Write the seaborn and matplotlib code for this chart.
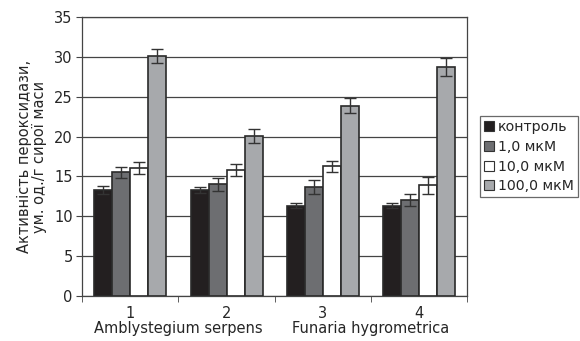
import matplotlib
matplotlib.use('Agg')
import matplotlib.pyplot as plt
import pandas as pd
import seaborn as sns

groups = ['1', '2', '3', '4']
levels = ['контроль', '1,0 мкМ', '10,0 мкМ', '100,0 мкМ']
control = [13.3, 13.3, 11.35, 11.35]
conc_1 = [15.5, 14.0, 13.7, 12.05]
conc_10 = [16.1, 15.8, 16.3, 13.9]
conc_100 = [30.1, 20.1, 23.9, 28.7]
err_control = [0.45, 0.4, 0.3, 0.3]
err_1 = [0.7, 0.85, 0.85, 0.8]
err_10 = [0.75, 0.8, 0.7, 1.05]
err_100 = [0.9, 0.85, 0.95, 1.1]
species = ['Amblystegium serpens', 'Funaria hygrometrica']
colors = ['#231f20', '#6d6e71', '#ffffff', '#a7a9ac']

values = [control, conc_1, conc_10, conc_100]
errors = [err_control, err_1, err_10, err_100]

rows = []
for lev, vals in zip(levels, values):
    for g, v in zip(groups, vals):
        rows.append({'group': g, 'level': lev, 'value': v})
df = pd.DataFrame(rows)

sns.set_style('white')
plt.rcParams['font.family'] = ['DejaVu Sans']
FS = 10.5

fig = plt.figure(figsize=(5.8, 3.41), dpi=100)
ax = fig.add_axes([0.142, 0.132, 0.663, 0.818])

bar_w = 0.75
sns.barplot(data=df, x='group', y='value', hue='level', order=groups,
            hue_order=levels, palette=colors, width=bar_w, gap=0, errorbar=None,
            saturation=1, ax=ax, zorder=3)

# make bars in a group touch each other, outline them, then add error bars
n = len(levels)
for i, (cont, errs) in enumerate(zip(ax.containers, errors)):
    xs = []
    for j, p in enumerate(cont.patches):
        x0 = j - bar_w / 2 + i * bar_w / n
        p.set_x(x0)
        p.set_width(bar_w / n)
        p.set_edgecolor('#2a2a2a')
        p.set_linewidth(1.2)
        xs.append(x0 + bar_w / n / 2)
    ys = [p.get_height() for p in cont.patches]
    ax.errorbar(xs, ys, yerr=errs, fmt='none', ecolor='#333333',
                elinewidth=1.0, capsize=4, capthick=1.0, zorder=4)

ax.set_ylim(0, 35)
ax.set_xlim(-0.5, 3.5)
ax.set_yticks(range(0, 36, 5))
ax.yaxis.grid(True, color='#444444', linewidth=0.9, zorder=0)
ax.set_axisbelow(True)
for s in ax.spines.values():
    s.set_color('#444444')
    s.set_linewidth(0.9)

ax.tick_params(axis='y', left=True, length=4, color='#444444', labelsize=FS, pad=3)
ax.tick_params(axis='x', bottom=False, labelsize=FS, pad=4)
# category boundary ticks
ax.set_xticks([-0.5, 0.5, 1.5, 2.5, 3.5], minor=True)
ax.tick_params(axis='x', which='minor', bottom=True, length=4, color='#444444')

ax.set_xlabel('')
ax.set_ylabel('Активність пероксидази,\nум. од./г сирої маси', fontsize=FS,
              linespacing=1.0, labelpad=5)

ax.text(0.5, -0.09, species[0], transform=ax.get_xaxis_transform(),
        ha='center', va='top', fontsize=FS)
ax.text(2.5, -0.09, species[1], transform=ax.get_xaxis_transform(),
        ha='center', va='top', fontsize=FS)

ax.get_legend().remove()
handles = [plt.Line2D([], [], marker='s', linestyle='none', markersize=7.5,
                      markerfacecolor=c, markeredgecolor='#333333', markeredgewidth=0.8)
           for c in colors]
leg = fig.legend(handles, levels, loc='upper left', bbox_to_anchor=(0.827, 0.66),
                 frameon=True, fancybox=False, fontsize=10.2, handlelength=0.7,
                 handletextpad=0.3, labelspacing=0.4, borderpad=0.3,
                 borderaxespad=0)
leg.get_frame().set_edgecolor('#444444')
leg.get_frame().set_linewidth(0.9)

fig.savefig('out.png', dpi=100)
